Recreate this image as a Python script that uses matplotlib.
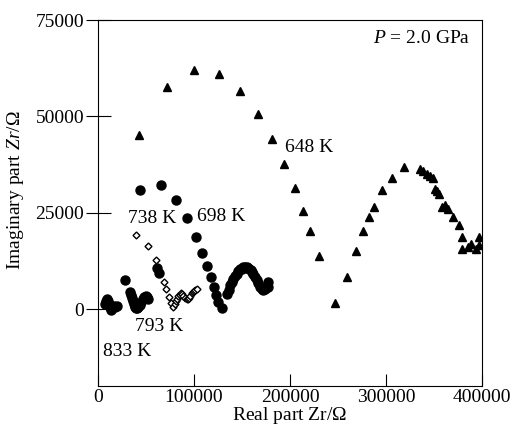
import matplotlib
matplotlib.use("Agg")
import matplotlib.pyplot as plt

plt.rcParams['font.family'] = ['Liberation Serif', 'DejaVu Serif']
plt.rcParams['mathtext.fontset'] = 'custom'
plt.rcParams['mathtext.rm'] = 'Liberation Serif'
plt.rcParams['mathtext.it'] = 'Liberation Serif:italic'

# 648 K (triangles)
x648 = [42700, 71500, 100000, 126000, 148000, 166300, 181000, 194000, 204900,
        213500, 221200, 229900, 246900, 259000, 268400, 276000, 282000, 287500,
        295800, 305900, 318400, 335400, 338900, 342400, 345800, 349300, 351000,
        352800, 355200, 358000, 361500, 364900, 369500, 375700, 379500, 378800,
        385800, 388500, 393400, 396900, 396900]
y648 = [45100, 57600, 62100, 60900, 56600, 50700, 44200, 37700, 31400,
        25500, 20200, 13700, 1500, 8400, 15000, 20200, 23800, 26500,
        30800, 34100, 36800, 36400, 35800, 35100, 34500, 33900, 31200,
        30700, 29800, 26500, 27000, 25900, 23900, 21900, 18700, 15700,
        16100, 16800, 15500, 18700, 16600]

# 698 K (filled circles)
x698 = [28100, 43800, 65300, 81250, 92700, 101700, 108300, 113200, 117400,
        120800, 122900, 125000, 129200, 134000, 136000, 137500, 139300, 141000,
        142800, 144500, 146200, 148000, 149700, 151400, 153100, 154800, 156300,
        157600, 159000, 160400, 161800, 163500, 165300, 167000, 168750, 170500,
        172200, 174000, 175800, 177400, 177400]
y698 = [7500, 31000, 32100, 28400, 23500, 18700, 14600, 11100, 8300,
        5800, 3600, 1900, 300, 3800, 5000, 6200, 7100, 7900,
        8600, 9200, 9900, 10300, 10500, 10800, 11000, 10900, 10700,
        10500, 10000, 9600, 9200, 8400, 7500, 6700, 5800, 5300,
        4900, 5300, 6100, 7100, 5600]

# 738 K (open diamonds)
x738 = [39200, 52400, 60100, 68750, 70800, 73600, 76400, 78500, 80000,
        81250, 82500, 83650, 84900, 86150, 87500, 88850, 90600, 92400,
        93700, 95100, 96300, 97600, 98800, 100000, 101400, 102800]
y738 = [19300, 16400, 12700, 6900, 5100, 3200, 1600, 600, 1200,
        2000, 2700, 3400, 3700, 4100, 3800, 3400, 2900, 2500,
        2600, 2800, 3400, 4100, 4400, 4700, 4900, 5100]

# 793 K (filled circles)
x793 = [33000, 34000, 35000, 36000, 37000, 38000, 39000, 40000, 41000, 42000,
        43500, 45000, 46500, 48000, 49500, 51000, 52500, 61500, 63000]
y793 = [4400, 3600, 2800, 2000, 1400, 900, 600, 300, 300, 500,
        1100, 1900, 2600, 3100, 3400, 3100, 2700, 10600, 9400]

# 833 K (filled circles)
x833 = [7300, 8200, 9000, 10000, 11000, 12000, 13000, 14000, 15000, 16500,
        18000, 19500]
y833 = [1200, 2200, 2700, 2000, 1200, 600, 100, -200, 400, 900, 600, 900]

fig = plt.figure(figsize=(5.16, 4.28), dpi=100)
ax = fig.add_axes([0.19, 0.098, 0.744, 0.855])

ax.plot(x648, y648, '^', color='black', markersize=5.5, linestyle='none')
ax.plot(x698, y698, 'o', color='black', markersize=6.5, linestyle='none')
ax.plot(x793, y793, 'o', color='black', markersize=6.5, linestyle='none')
ax.plot(x833, y833, 'o', color='black', markersize=6.5, linestyle='none')
ax.plot(x738, y738, 'D', markerfacecolor='white', markeredgecolor='black',
        markersize=3.5, markeredgewidth=1.0, linestyle='none')

fs = 14
ax.text(194800, 42000, '648 K', fontsize=fs, va='center', ha='left')
ax.text(31000, 23500, '738 K', fontsize=fs, va='center', ha='left')
ax.text(103400, 23900, '698 K', fontsize=fs, va='center', ha='left')
ax.text(38500, -4600, '793 K', fontsize=fs, va='center', ha='left')
ax.text(5500, -11000, '833 K', fontsize=fs, va='center', ha='left')
ax.text(0.97, 0.95, r'$P$ = 2.0 GPa', transform=ax.transAxes, fontsize=fs,
        va='center', ha='right')

ax.set_xlim(0, 400000)
ax.set_ylim(-20000, 75000)
ax.set_xticks([0, 100000, 200000, 300000, 400000])
ax.set_yticks([0, 25000, 50000, 75000])
ax.tick_params(axis='x', direction='in', length=9, labelsize=fs, pad=2)
ax.tick_params(axis='y', direction='inout', length=18, labelsize=fs, pad=1)

ax.set_xlabel(r'Real part Zr/$\Omega$', fontsize=fs)
ax.xaxis.set_label_coords(0.5, -0.08)
ax.xaxis.label.set_va('center')
ax.set_ylabel(r'Imaginary part $Zr$/$\Omega$', fontsize=fs)
ax.yaxis.set_label_coords(-0.215, 0.535)
ax.yaxis.label.set_va('center')

fig.savefig('out.png', dpi=100)
